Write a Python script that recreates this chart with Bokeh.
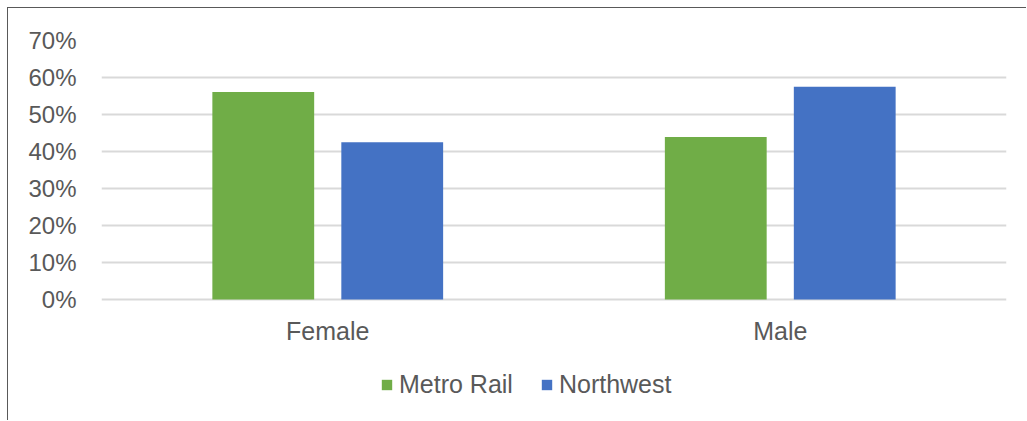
from bokeh.plotting import figure
from bokeh.models import (ColumnDataSource, FactorRange, FixedTicker, NumeralTickFormatter,
                          Legend, LegendItem)
from bokeh.core.properties import value
from bokeh.transform import dodge
from bokeh.embed import file_html
from bokeh.resources import INLINE

categories = ["Female", "Male"]
series_names = ["Metro Rail", "Northwest"]
metro_rail = [0.561, 0.439]
northwest = [0.425, 0.575]
y_ticks = [0.0, 0.1, 0.2, 0.3, 0.4, 0.5, 0.6, 0.7]
colors = ["#70AD47", "#4472C4"]

src = ColumnDataSource(dict(cat=categories, metro=metro_rail, nw=northwest))

FONT = "Liberation Sans"
TXT = "#595959"

# the frame reaches the bottom edge so that the category labels and legend sit inside it
p = figure(width=1019, height=413, x_range=FactorRange(*categories, range_padding=0),
           y_range=(-122 / 370, 0.7), output_backend="svg", toolbar_location=None,
           min_border_left=93, min_border_right=21, min_border_top=32, min_border_bottom=0)
p.styles = {"margin-left": "7px", "margin-top": "7px",
            "border-left": "1px solid #595959", "border-top": "1px solid #595959"}

r1 = p.vbar(x=dodge("cat", -0.1425, range=p.x_range), top="metro", width=0.225, source=src,
            fill_color=colors[0], line_color=None)
r2 = p.vbar(x=dodge("cat", 0.1425, range=p.x_range), top="nw", width=0.225, source=src,
            fill_color=colors[1], line_color=None)

# category labels
lab_src = ColumnDataSource(dict(cat=categories, y=[-31 / 370] * len(categories)))
p.text(x="cat", y="y", text="cat", source=lab_src, text_font=value(FONT),
       text_font_size="25px", text_color=TXT, text_align="center", text_baseline="middle")

p.outline_line_color = None
p.xgrid.grid_line_color = None
p.ygrid.grid_line_color = "#d9d9d9"
p.ygrid.grid_line_width = 2
p.ygrid.ticker = FixedTicker(ticks=y_ticks)
p.xaxis.visible = False

p.yaxis.ticker = FixedTicker(ticks=y_ticks)
p.yaxis.formatter = NumeralTickFormatter(format="0%")
ax = p.yaxis[0]
ax.axis_line_color = None
ax.major_tick_line_color = None
ax.minor_tick_line_color = None
ax.major_label_text_font = FONT
ax.major_label_text_color = TXT
ax.major_label_text_font_size = "24px"
ax.major_label_standoff = 19

legend = Legend(items=[LegendItem(label=series_names[0], renderers=[r1]),
                       LegendItem(label=series_names[1], renderers=[r2])],
                orientation="horizontal", location=(279, 22),
                glyph_width=13, glyph_height=13, label_standoff=6, spacing=27,
                padding=0, margin=0, border_line_color=None, background_fill_alpha=0,
                label_text_font=FONT, label_text_font_size="25px", label_text_color=TXT,
                label_height=24)
p.add_layout(legend, "center")

open("out.html", "w").write(file_html(p, INLINE))
